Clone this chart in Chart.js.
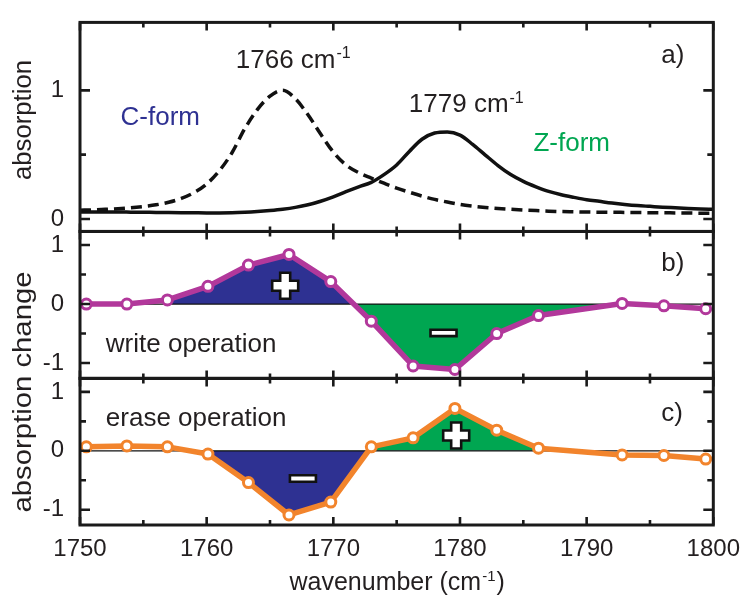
<!DOCTYPE html>
<html>
<head>
<meta charset="utf-8">
<script src="https://cdn.jsdelivr.net/npm/chart.js@4.4.1/dist/chart.umd.min.js"></script>
<style>
  html, body { margin: 0; padding: 0; background: #ffffff; }
  canvas { display: block; }
</style>
</head>
<body>
<canvas id="chart" width="750" height="596"></canvas>
<script>
// ---- Panel a: stationary absorption spectra of the two isomers ----
const spectrumWavenumbers = [
  1750, 1751, 1752, 1753, 1754, 1755, 1756, 1757, 1758, 1759,
  1760, 1761, 1762, 1763, 1764, 1765, 1766, 1767, 1768, 1769,
  1770, 1771, 1772, 1773, 1774, 1775, 1776, 1777, 1778, 1779,
  1780, 1781, 1782, 1783, 1784, 1785, 1786, 1787, 1788, 1789,
  1790, 1791, 1792, 1793, 1794, 1795, 1796, 1797, 1798, 1799, 1800
];
const cFormAbsorption = [
  0.068, 0.071, 0.075, 0.080, 0.087, 0.097, 0.110, 0.130, 0.160, 0.205,
  0.272, 0.375, 0.515, 0.700, 0.850, 0.955, 1.000, 0.935, 0.810, 0.660,
  0.520, 0.420, 0.360, 0.318, 0.278, 0.240, 0.208, 0.178, 0.152, 0.132,
  0.113, 0.100, 0.090, 0.082, 0.076, 0.070, 0.065, 0.061, 0.058, 0.056,
  0.054, 0.053, 0.052, 0.051, 0.050, 0.049, 0.048, 0.047, 0.046, 0.045, 0.044
];
const zFormAbsorption = [
  0.055, 0.055, 0.054, 0.054, 0.053, 0.052, 0.051, 0.050, 0.049, 0.048,
  0.047, 0.047, 0.048, 0.052, 0.058, 0.066, 0.076, 0.090, 0.110, 0.138,
  0.172, 0.212, 0.250, 0.285, 0.345, 0.420, 0.525, 0.620, 0.668, 0.677,
  0.652, 0.580, 0.497, 0.415, 0.345, 0.292, 0.250, 0.214, 0.188, 0.168,
  0.150, 0.137, 0.124, 0.113, 0.104, 0.098, 0.092, 0.087, 0.082, 0.078, 0.075
];

// ---- Panels b and c: absorption change after write / erase ----
const probeWavenumbers = [
  1750.5, 1753.7, 1756.9, 1760.1, 1763.3, 1766.5, 1769.8, 1773.0,
  1776.3, 1779.6, 1782.9, 1786.2, 1792.8, 1796.1, 1799.4
];
const writeChange = [
  0.00, 0.00, 0.07, 0.30, 0.66, 0.84, 0.38, -0.29,
  -1.05, -1.11, -0.50, -0.195, 0.01, -0.03, -0.08
];
const eraseChange = [
  0.067, 0.083, 0.067, -0.055, -0.54, -1.09, -0.87, 0.067,
  0.22, 0.72, 0.35, 0.045, -0.07, -0.08, -0.14
];
// index ranges (first, last) of the shaded band-change regions
const writeShadeRange = [2, 12];
const eraseShadeRange = [3, 11];

// ---- Ticks ----
const xTicks = [1750, 1760, 1770, 1780, 1790, 1800];
const xMinorTicks = [1755, 1765, 1775, 1785, 1795];
const absorptionTicks = [0, 1];
const absorptionMinorTicks = [0.5];
const changeTicks = [-1, 0, 1];
const changeMinorTicks = [-0.5, 0.5];

// ---- Text annotations (placed in data coordinates) ----
const peakLabels = [
  { text: '1766 cm', sup: '-1', x: 1762.3, y: 1.175, axis: 'yA', color: '#231f20' },
  { text: '1779 cm', sup: '-1', x: 1775.96, y: 0.83, axis: 'yA', color: '#231f20' },
  { text: 'C-form', x: 1753.2, y: 0.73, axis: 'yA', color: '#2e3192' },
  { text: 'Z-form', x: 1785.8, y: 0.53, axis: 'yA', color: '#00a651' },
  { text: 'a)', x: 1795.9, y: 1.21, axis: 'yA', color: '#231f20' },
  { text: 'b)', x: 1795.9, y: 0.566, axis: 'yB', color: '#231f20' },
  { text: 'c)', x: 1795.9, y: 0.5, axis: 'yC', color: '#231f20' },
  { text: 'write operation', x: 1752.04, y: -0.81, axis: 'yB', color: '#231f20' },
  { text: 'erase operation', x: 1752.04, y: 0.417, axis: 'yC', color: '#231f20' }
];
const signMarks = [
  { sign: '+', x: 1766.2, y: 0.31, axis: 'yB' },
  { sign: '-', x: 1778.7, y: -0.49, axis: 'yB' },
  { sign: '-', x: 1767.6, y: -0.47, axis: 'yC' },
  { sign: '+', x: 1779.7, y: 0.26, axis: 'yC' }
];

const FONT = "'Liberation Sans', Arial, Helvetica, sans-serif";
const INK = '#231f20';
const BLUE = '#2e3192';
const GREEN = '#00a651';
const MAGENTA = '#b2389b';
const ORANGE = '#f2842c';

const pts = (xs, ys) => xs.map((x, i) => ({ x, y: ys[i] }));
const ptsRange = (xs, ys, r) => pts(xs, ys).slice(r[0], r[1] + 1);

// text with an optional superscript; returns the right edge
function drawRich(ctx, text, sup, x, y, size, color, align, tail) {
  const supSize = Math.round(size * 0.6);
  ctx.font = size + 'px ' + FONT;
  const w1 = ctx.measureText(text).width;
  const w3 = tail ? ctx.measureText(tail).width : 0;
  ctx.font = supSize + 'px ' + FONT;
  const w2 = sup ? ctx.measureText(sup).width + 1 : 0;
  let x0 = x;
  if (align === 'center') x0 = x - (w1 + w2 + w3) / 2;
  ctx.fillStyle = color;
  ctx.textAlign = 'left';
  ctx.textBaseline = 'alphabetic';
  ctx.font = size + 'px ' + FONT;
  ctx.fillText(text, x0, y);
  if (sup) {
    ctx.font = supSize + 'px ' + FONT;
    ctx.fillText(sup, x0 + w1 + 1, y - size * 0.36);
  }
  if (tail) {
    ctx.font = size + 'px ' + FONT;
    ctx.fillText(tail, x0 + w1 + w2 + 1, y);
  }
}

function drawVerticalTitle(ctx, text, x, cy, size, length) {
  ctx.save();
  ctx.translate(x, cy);
  ctx.rotate(-Math.PI / 2);
  ctx.font = size + 'px ' + FONT;
  const w = ctx.measureText(text).width;
  ctx.scale(length / w, 1);
  ctx.fillStyle = INK;
  ctx.textAlign = 'center';
  ctx.textBaseline = 'alphabetic';
  ctx.fillText(text, 0, 0);
  ctx.restore();
}

function drawSign(ctx, sign, cx, cy) {
  const a = 13, b = 5;
  ctx.beginPath();
  if (sign === '+') {
    ctx.moveTo(cx - b, cy - a); ctx.lineTo(cx + b, cy - a); ctx.lineTo(cx + b, cy - b);
    ctx.lineTo(cx + a, cy - b); ctx.lineTo(cx + a, cy + b); ctx.lineTo(cx + b, cy + b);
    ctx.lineTo(cx + b, cy + a); ctx.lineTo(cx - b, cy + a); ctx.lineTo(cx - b, cy + b);
    ctx.lineTo(cx - a, cy + b); ctx.lineTo(cx - a, cy - b); ctx.lineTo(cx - b, cy - b);
    ctx.closePath();
  } else {
    ctx.rect(cx - a, cy - 3.2, 2 * a, 6.4);
  }
  ctx.fillStyle = '#ffffff';
  ctx.fill();
  ctx.lineWidth = 2.6;
  ctx.lineJoin = 'miter';
  ctx.strokeStyle = '#111111';
  ctx.stroke();
}

// Frames, inward ticks, annotations and axis titles
const panelDecor = {
  id: 'panelDecor',
  afterDatasetsDraw(chart) {
    const ctx = chart.ctx;
    const xs = chart.scales.x;
    ctx.save();
    for (const s of signMarks) {
      drawSign(ctx, s.sign, xs.getPixelForValue(s.x), chart.scales[s.axis].getPixelForValue(s.y));
    }
    for (const l of peakLabels) {
      drawRich(ctx, l.text, l.sup, xs.getPixelForValue(l.x),
        chart.scales[l.axis].getPixelForValue(l.y), 26, l.color, 'left');
    }
    ctx.restore();
  },
  afterDraw(chart) {
    const ctx = chart.ctx;
    const area = chart.chartArea;
    const xs = chart.scales.x;
    const panels = [
      { s: chart.scales.yA, major: absorptionTicks, minor: absorptionMinorTicks },
      { s: chart.scales.yB, major: changeTicks, minor: changeMinorTicks },
      { s: chart.scales.yC, major: changeTicks, minor: changeMinorTicks }
    ];
    ctx.save();
    ctx.strokeStyle = '#1a1a1a';
    ctx.lineCap = 'butt';
    ctx.lineWidth = 2.6;
    ctx.beginPath();
    for (const p of panels) {
      const top = p.s.top, bottom = p.s.bottom;
      const xt = [...xTicks.map(v => [v, 8]), ...xMinorTicks.map(v => [v, 5])];
      for (const [v, len] of xt) {
        const px = xs.getPixelForValue(v);
        ctx.moveTo(px, top); ctx.lineTo(px, top + len);
        ctx.moveTo(px, bottom); ctx.lineTo(px, bottom - len);
      }
      const yt = [...p.major.map(v => [v, 10]), ...p.minor.map(v => [v, 6])];
      for (const [v, len] of yt) {
        const py = p.s.getPixelForValue(v);
        ctx.moveTo(area.left, py); ctx.lineTo(area.left + len, py);
        ctx.moveTo(area.right, py); ctx.lineTo(area.right - len, py);
      }
    }
    ctx.stroke();
    ctx.lineWidth = 3;
    for (const p of panels) {
      ctx.strokeRect(area.left, p.s.top, area.right - area.left, p.s.bottom - p.s.top);
    }
    // axis titles
    drawRich(ctx, 'wavenumber (cm', '-1', (area.left + area.right) / 2, 590, 25, INK, 'center', ')');
    drawVerticalTitle(ctx, 'absorption', 31, 120, 25, 120);
    drawVerticalTitle(ctx, 'absorption change', 31, 392, 26, 241);
    ctx.restore();
  }
};

const yCommon = (min, max, ticks, weight) => ({
  type: 'linear',
  position: 'left',
  stack: 'panels',
  stackWeight: weight,
  min, max,
  grid: { display: false },
  border: { display: false },
  afterBuildTicks: s => { s.ticks = ticks.map(v => ({ value: v })); },
  afterFit: s => { s.width = 80; },
  ticks: {
    font: { family: FONT, size: 24 },
    color: INK,
    padding: 8,
    callback: v => String(v)
  }
});

new Chart(document.getElementById('chart'), {
  type: 'line',
  data: {
    datasets: [
      // panel a
      {
        data: pts(spectrumWavenumbers, cFormAbsorption), yAxisID: 'yA',
        borderColor: '#111111', borderWidth: 3.5, borderDash: [11, 6],
        pointRadius: 0, fill: false, cubicInterpolationMode: 'monotone', order: 1
      },
      {
        data: pts(spectrumWavenumbers, zFormAbsorption), yAxisID: 'yA',
        borderColor: '#111111', borderWidth: 3.5,
        pointRadius: 0, fill: false, cubicInterpolationMode: 'monotone', order: 1
      },
      // panel b
      {
        data: ptsRange(probeWavenumbers, writeChange, writeShadeRange), yAxisID: 'yB',
        borderWidth: 0, borderColor: 'rgba(0,0,0,0)', pointRadius: 0,
        fill: { target: { value: 0 }, above: BLUE, below: GREEN }, order: 5
      },
      {
        data: [{ x: 1750, y: 0 }, { x: 1800, y: 0 }], yAxisID: 'yB',
        borderColor: '#111111', borderWidth: 1.2, pointRadius: 0, fill: false, order: 3
      },
      {
        data: pts(probeWavenumbers, writeChange), yAxisID: 'yB',
        borderColor: MAGENTA, borderWidth: 5.5, borderJoinStyle: 'round', borderCapStyle: 'round',
        pointRadius: 5, pointBorderWidth: 3, pointBackgroundColor: '#ffffff',
        pointBorderColor: MAGENTA, fill: false, order: 1
      },
      // panel c
      {
        data: ptsRange(probeWavenumbers, eraseChange, eraseShadeRange), yAxisID: 'yC',
        borderWidth: 0, borderColor: 'rgba(0,0,0,0)', pointRadius: 0,
        fill: { target: { value: 0 }, above: GREEN, below: BLUE }, order: 5
      },
      {
        data: [{ x: 1750, y: 0 }, { x: 1800, y: 0 }], yAxisID: 'yC',
        borderColor: '#111111', borderWidth: 1.2, pointRadius: 0, fill: false, order: 3
      },
      {
        data: pts(probeWavenumbers, eraseChange), yAxisID: 'yC',
        borderColor: ORANGE, borderWidth: 5.5, borderJoinStyle: 'round', borderCapStyle: 'round',
        pointRadius: 5, pointBorderWidth: 3, pointBackgroundColor: '#ffffff',
        pointBorderColor: ORANGE, fill: false, order: 1
      }
    ]
  },
  options: {
    responsive: false,
    animation: false,
    devicePixelRatio: 1,
    layout: { padding: { top: 17, right: 33, left: 0, bottom: 0 } },
    plugins: { legend: { display: false }, tooltip: { enabled: false } },
    scales: {
      x: {
        type: 'linear',
        position: 'bottom',
        min: 1750, max: 1800,
        grid: { display: false, drawTicks: false },
        border: { display: false },
        afterBuildTicks: s => { s.ticks = xTicks.map(v => ({ value: v })); },
        afterFit: s => { s.height = 71; },
        ticks: {
          font: { family: FONT, size: 24 },
          color: INK,
          padding: 10,
          maxRotation: 0,
          autoSkip: false,
          callback: v => String(v)
        }
      },
      yC: yCommon(-1.26, 1.23, changeTicks, 148.2),
      yB: yCommon(-1.26, 1.23, changeTicks, 148.5),
      yA: yCommon(-0.097, 1.528, absorptionTicks, 211.3)
    }
  },
  plugins: [panelDecor]
});
</script>
</body>
</html>
